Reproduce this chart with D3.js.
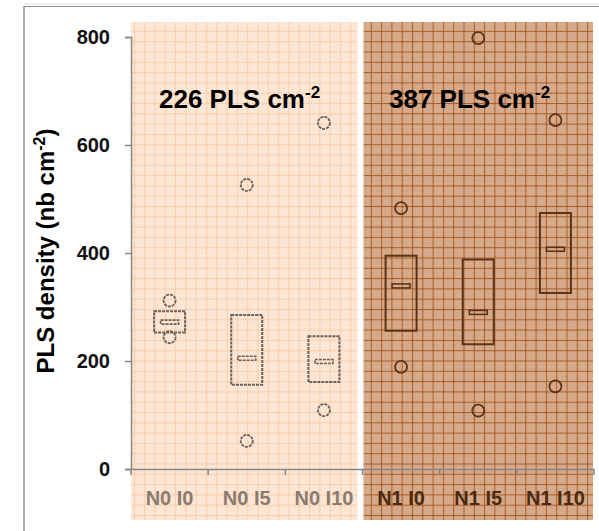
<!DOCTYPE html>
<html>
<head>
<meta charset="utf-8">
<script src="https://cdn.jsdelivr.net/npm/d3@7"></script>
<style>
  body { margin: 0; background: #fff; }
  svg { display: block; font-family: "Liberation Sans", Arial, sans-serif; }
</style>
</head>
<body>
<script>
// data
var categories = ["N0 I0", "N0 I5", "N0 I10", "N1 I0", "N1 I5", "N1 I10"];
var q1 = [253, 156, 161, 256, 231, 326];
var q3 = [292, 285, 246, 395, 388, 474];
var median = [272, 205, 199, 339, 290, 407];
var lowPoint = [244, 52, 109, 189, 108, 153];
var highPoint = [312, 526, 641, 483, 798, 646];
var yTicks = [0, 200, 400, 600, 800];
var groupLabels = ["226", "387"];

var width = 599, height = 531;
var margin = { top: 37, left: 131, right: 5, bottom: 62 };

var svg = d3.select("body").append("svg")
  .attr("width", width)
  .attr("height", height);

var x = d3.scaleBand()
  .domain(categories)
  .range([margin.left, width - margin.right])
  .padding(0);

var y = d3.scaleLinear()
  .domain([0, 800])
  .range([height - margin.bottom, margin.top]);

// patterns for the two shaded panels
var defs = svg.append("defs");
function gridPattern(id, base, dots, line) {
  var p = defs.append("pattern")
    .attr("id", id)
    .attr("patternUnits", "userSpaceOnUse")
    .attr("width", 10.3).attr("height", 10.3);
  p.append("rect").attr("width", 10.3).attr("height", 10.3).attr("fill", base);
  // fine checker texture
  for (var i = 0; i < 10; i += 2) {
    for (var j = 0; j < 10; j += 2) {
      if ((i + j) % 4 === 0) {
        p.append("rect").attr("x", i + 1).attr("y", j + 1).attr("width", 1).attr("height", 1).attr("fill", dots);
      }
    }
  }
  p.append("rect").attr("x", 0).attr("y", 0).attr("width", 10.3).attr("height", 1).attr("fill", line);
  p.append("rect").attr("x", 0).attr("y", 0).attr("width", 1).attr("height", 10.3).attr("fill", line);
}
gridPattern("gridLight", "#fde8d7", "#f7d9c2", "#f9d0ae");
gridPattern("gridDark", "#d8ab8c", "#c99a7c", "#a85f2a");

var panelTop = 22, panelBottom = 520;
var groups = [
  { cats: categories.slice(0, 3), fill: "url(#gridLight)", x0: 0, x1: -5 },
  { cats: categories.slice(3), fill: "url(#gridDark)", x0: 1, x1: -1 }
];
groups.forEach(function (g) {
  var a = x(g.cats[0]) + g.x0;
  var b = x(g.cats[g.cats.length - 1]) + x.bandwidth() + g.x1;
  svg.append("rect")
    .attr("x", a).attr("y", panelTop)
    .attr("width", b - a).attr("height", panelBottom - panelTop)
    .attr("fill", g.fill);
});

// outer frame lines
svg.append("line").attr("x1", 24).attr("x2", 24).attr("y1", 6).attr("y2", height)
  .attr("stroke", "#8c8c8c").attr("stroke-width", 1.5);
svg.append("line").attr("x1", 24).attr("x2", width).attr("y1", 6.5).attr("y2", 6.5)
  .attr("stroke", "#8c8c8c").attr("stroke-width", 1.2);
svg.append("line").attr("x1", 24).attr("x2", width).attr("y1", 4).attr("y2", 4)
  .attr("stroke", "#dcdcdc").attr("stroke-width", 1);

// y axis
var yAxis = svg.append("g")
  .attr("transform", "translate(" + margin.left + ",0)")
  .call(d3.axisLeft(y).tickValues(yTicks).tickSize(6).tickPadding(15));
yAxis.select(".domain").attr("stroke", "#868686").attr("stroke-width", 1.5);
yAxis.selectAll(".tick line").attr("stroke", "#868686").attr("stroke-width", 1.5);
yAxis.selectAll(".tick text")
  .attr("font-size", 20).attr("font-weight", "bold").attr("fill", "#111")
  .attr("font-family", "'Liberation Sans', Arial, sans-serif");

// x axis
var xAxis = svg.append("g")
  .attr("transform", "translate(0," + y(0) + ")")
  .call(d3.axisBottom(x).tickSize(0).tickPadding(22));
xAxis.select(".domain").attr("stroke", "#868686").attr("stroke-width", 1.5);
xAxis.selectAll(".tick text")
  .attr("font-size", 20).attr("font-weight", "bold")
  .attr("font-family", "'Liberation Sans', Arial, sans-serif")
  .attr("fill", function (d, i) { return i < 3 ? "#8a7b70" : "#4a2a10"; });
// tick marks between categories
var bounds = categories.map(function (c) { return x(c); }).concat([x.range()[1]]);
svg.append("g").selectAll("line").data(bounds).enter().append("line")
  .attr("x1", function (d) { return d; }).attr("x2", function (d) { return d; })
  .attr("y1", y(0)).attr("y2", y(0) + 6)
  .attr("stroke", "#868686").attr("stroke-width", 1.5);

// y axis title
svg.append("text")
  .attr("transform", "translate(54,251) rotate(-90)")
  .attr("text-anchor", "middle")
  .attr("font-size", 24).attr("font-weight", "bold").attr("fill", "#000")
  .call(function (t) {
    t.append("tspan").text("PLS density (nb cm");
    t.append("tspan").attr("font-size", 16).attr("dy", -9).text("-2");
    t.append("tspan").attr("dy", 9).text(")");
  });

// boxes
var boxW = 31, medW = 18, medH = 4;
var rows = categories.map(function (c, i) {
  return { cat: c, i: i, q1: q1[i], q3: q3[i], med: median[i], lo: lowPoint[i], hi: highPoint[i] };
});
function strokeOf(d) { return d.i < 3 ? "#6e6056" : "#5a3315"; }
function dashOf(d) { return d.i < 3 ? "3,1" : null; }
var cx = function (d) { return x(d.cat) + x.bandwidth() / 2; };

var box = svg.append("g").selectAll("g").data(rows).enter().append("g");
box.append("rect")
  .attr("x", function (d) { return cx(d) - boxW / 2; })
  .attr("y", function (d) { return y(d.q3); })
  .attr("width", boxW)
  .attr("height", function (d) { return y(d.q1) - y(d.q3); })
  .attr("fill", "none").attr("stroke", strokeOf).attr("stroke-width", 2)
  .attr("stroke-dasharray", dashOf);
box.append("rect")
  .attr("x", function (d) { return cx(d) - medW / 2; })
  .attr("y", function (d) { return y(d.med) - medH / 2; })
  .attr("width", medW).attr("height", medH)
  .attr("fill", "none").attr("stroke", strokeOf).attr("stroke-width", 1.6)
  .attr("stroke-dasharray", dashOf);
["lo", "hi"].forEach(function (k) {
  box.append("circle")
    .attr("cx", cx)
    .attr("cy", function (d) { return y(d[k]); })
    .attr("r", 6)
    .attr("fill", "none").attr("stroke", strokeOf).attr("stroke-width", 1.8)
    .attr("stroke-dasharray", dashOf);
});

// group annotations
var annX = [159, 389];
groupLabels.forEach(function (v, i) {
  var t = svg.append("text")
    .attr("x", annX[i]).attr("y", 108)
    .attr("font-size", 26).attr("font-weight", "bold").attr("fill", "#000");
  t.append("tspan").text(v + " PLS cm");
  t.append("tspan").attr("font-size", 17).attr("dy", -10).text("-2");
});
</script>
</body>
</html>
